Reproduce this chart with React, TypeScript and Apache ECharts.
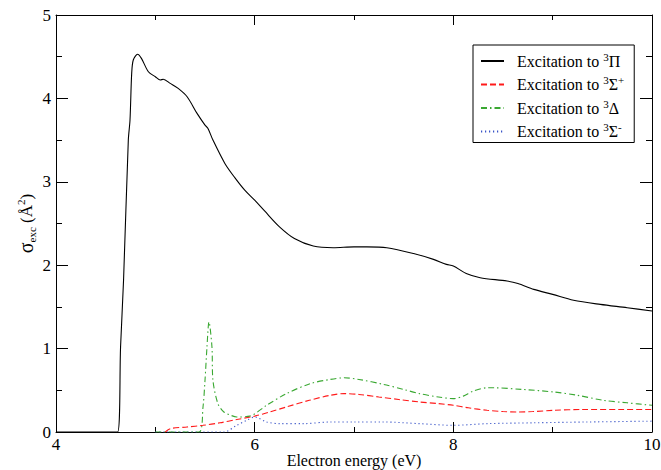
import React, { useEffect, useRef } from "react";
import * as echarts from "echarts";

const piX = [4.0, 4.62, 4.65, 4.68, 4.728, 4.745, 4.762, 4.778, 4.822, 4.86, 4.93, 5.0, 5.05, 5.08, 5.15, 5.23, 5.32, 5.42, 5.5, 5.53, 5.58, 5.7, 5.8, 5.9, 6.0, 6.1, 6.25, 6.4, 6.59, 6.79, 7.0, 7.13, 7.33, 7.6, 7.8, 7.93, 8.0, 8.13, 8.27, 8.54, 8.65, 8.81, 9.0, 9.21, 9.48, 9.75, 10.0];
const piY = [0, 0, 1.02, 1.82, 3.5, 3.74, 4.3, 4.46, 4.53, 4.48, 4.32, 4.26, 4.22, 4.23, 4.18, 4.12, 4.02, 3.82, 3.68, 3.64, 3.5, 3.22, 3.05, 2.9, 2.78, 2.65, 2.46, 2.32, 2.23, 2.21, 2.22, 2.22, 2.21, 2.14, 2.07, 2.01, 1.99, 1.9, 1.85, 1.81, 1.78, 1.71, 1.65, 1.58, 1.53, 1.49, 1.45];

const spX = [5.1, 5.15, 5.32, 5.48, 5.65, 5.82, 6.0, 6.15, 6.32, 6.55, 6.76, 6.9, 7.05, 7.25, 7.45, 7.66, 7.85, 8.0, 8.15, 8.34, 8.5, 8.64, 8.8, 9.01, 9.3, 9.68, 10.0];
const spY = [0, 0.04, 0.06, 0.08, 0.11, 0.15, 0.19, 0.24, 0.3, 0.38, 0.44, 0.46, 0.45, 0.42, 0.39, 0.36, 0.34, 0.32, 0.29, 0.26, 0.245, 0.24, 0.245, 0.26, 0.27, 0.27, 0.27];

const dX = [5.0, 5.44, 5.48, 5.5, 5.52, 5.54, 5.57, 5.58, 5.63, 5.69, 5.76, 5.82, 5.95, 6.12, 6.32, 6.56, 6.76, 6.9, 7.05, 7.3, 7.5, 7.66, 7.85, 8.0, 8.1, 8.2, 8.34, 8.4, 8.7, 9.01, 9.25, 9.51, 9.75, 10.0];
const dY = [0, 0, 0.3, 0.62, 1.02, 1.32, 1.02, 0.62, 0.34, 0.24, 0.2, 0.18, 0.19, 0.32, 0.46, 0.58, 0.63, 0.65, 0.63, 0.57, 0.51, 0.46, 0.42, 0.4, 0.43, 0.49, 0.53, 0.53, 0.51, 0.48, 0.44, 0.38, 0.35, 0.32];

const smX = [5.0, 5.69, 5.82, 5.92, 6.0, 6.12, 6.25, 6.49, 6.76, 7.0, 7.3, 7.66, 8.0, 8.34, 8.8, 9.34, 10.0];
const smY = [0, 0, 0.08, 0.14, 0.18, 0.12, 0.1, 0.1, 0.12, 0.12, 0.12, 0.1, 0.08, 0.1, 0.11, 0.12, 0.13];

const seriesNames = ["pi", "sigmaPlus", "delta", "sigmaMinus"];
const legendLabels: Record<string, string> = {
  pi: "{t|Excitation to }{sup|3}{g|Π}",
  sigmaPlus: "{t|Excitation to }{sup|3}{g|Σ}{sup|+}",
  delta: "{t|Excitation to }{sup|3}{g|Δ}",
  sigmaMinus: "{t|Excitation to }{sup|3}{g|Σ}{sup|-}",
};

const xMin = 4, xMax = 10, xStep = 2;
const yMin = 0, yMax = 5, yStep = 1;

const FONT = "'Liberation Serif', 'Times New Roman', 'DejaVu Serif', serif";

function pairs(xs: number[], ys: number[]) {
  return xs.map((x, i) => [x, ys[i]]);
}

export default function App() {
  const ref = useRef<HTMLDivElement>(null);
  useEffect(() => {
    if (!ref.current) return;
    const chart = echarts.init(ref.current, undefined, { renderer: "svg" });
    const axisCommon = {
      type: "value" as const,
      axisLine: { show: true, onZero: false, lineStyle: { color: "#000", width: 1 } },
      splitLine: { show: false },
      minorSplitLine: { show: false },
      nameMoveOverlap: false,
    };
    const lineBase = { type: "line", showSymbol: false, symbol: "none", smooth: 0.3 };
    chart.setOption({
      animation: false,
      backgroundColor: "#fff",
      textStyle: { fontFamily: FONT },
      grid: { left: 56, right: 9, top: 15, bottom: 38, containLabel: false, outerBoundsMode: "none" },
      legend: {
        orient: "vertical",
        left: 473,
        top: 45,
        padding: [6, 10, 3, 7],
        itemWidth: 23,
        itemHeight: 14,
        itemGap: 5.5,
        borderColor: "#000",
        borderWidth: 1,
        borderRadius: 0,
        backgroundColor: "#fff",
        data: seriesNames,
        itemStyle: { opacity: 0 },
        formatter: (name: string) => legendLabels[name],
        textStyle: {
          fontFamily: FONT,
          fontSize: 16,
          color: "#000",
          rich: {
            t: { fontFamily: FONT, fontSize: 16, color: "#000", lineHeight: 20, padding: [0, 0, 0, 8], verticalAlign: "middle" },
            g: { fontFamily: FONT, fontSize: 16, color: "#000", lineHeight: 20, verticalAlign: "middle" },
            sup: { fontFamily: FONT, fontSize: 11, color: "#000", lineHeight: 11, verticalAlign: "top" },
          },
        },
      },
      xAxis: [
        {
          ...axisCommon,
          position: "bottom",
          min: xMin,
          max: xMax,
          interval: xStep,
          axisTick: { show: true, inside: true, length: 10, lineStyle: { color: "#000" } },
          minorTick: { show: true, splitNumber: 2, length: 5, lineStyle: { color: "#000" } },
          axisLabel: { show: true, color: "#000", fontFamily: FONT, fontSize: 17, margin: 4 },
          name: "Electron energy (eV)",
          nameLocation: "middle",
          nameGap: 20,
          nameTextStyle: { color: "#000", fontFamily: FONT, fontSize: 16, lineHeight: 16 },
        },
        {
          ...axisCommon,
          position: "top",
          min: xMin,
          max: xMax,
          interval: xStep,
          axisTick: { show: true, inside: true, length: 10, lineStyle: { color: "#000" } },
          minorTick: { show: true, splitNumber: 2, length: 5, lineStyle: { color: "#000" } },
          axisLabel: { show: false },
        },
      ],
      yAxis: [
        {
          ...axisCommon,
          position: "left",
          min: yMin,
          max: yMax,
          interval: yStep,
          axisTick: { show: true, inside: true, length: 12, lineStyle: { color: "#000" } },
          minorTick: { show: true, splitNumber: 2, length: 6, lineStyle: { color: "#000" } },
          axisLabel: { show: true, color: "#000", fontFamily: FONT, fontSize: 17, margin: 5 },
          name: "{s|σ}{sub|exc}{n| (Å}{sup|2}{n|)}",
          nameLocation: "middle",
          nameGap: 19,
          nameTextStyle: {
            color: "#000",
            fontFamily: FONT,
            fontSize: 17,
            rich: {
              s: { fontFamily: FONT, fontSize: 20, color: "#000", lineHeight: 22, verticalAlign: "middle" },
              n: { fontFamily: FONT, fontSize: 17, color: "#000", lineHeight: 22, verticalAlign: "middle" },
              sub: { fontFamily: FONT, fontSize: 11, color: "#000", lineHeight: 11, verticalAlign: "bottom" },
              sup: { fontFamily: FONT, fontSize: 11, color: "#000", lineHeight: 11, verticalAlign: "top" },
            },
          },
        },
        {
          ...axisCommon,
          position: "right",
          min: yMin,
          max: yMax,
          interval: yStep,
          axisTick: { show: true, inside: true, length: 12, lineStyle: { color: "#000" } },
          minorTick: { show: true, splitNumber: 2, length: 6, lineStyle: { color: "#000" } },
          axisLabel: { show: false },
        },
      ],
      series: [
        {
          ...lineBase,
          name: "pi",
          data: pairs(piX, piY),
          lineStyle: { color: "#000", width: 1.1, type: "solid" },
          itemStyle: { color: "#000" },
          z: 5,
        },
        {
          ...lineBase,
          name: "sigmaPlus",
          data: pairs(spX, spY),
          lineStyle: { color: "#ff1a1a", width: 1.1, type: [6, 3] },
          itemStyle: { color: "#ff1a1a" },
          z: 4,
        },
        {
          ...lineBase,
          name: "delta",
          data: pairs(dX, dY),
          lineStyle: { color: "#3aa832", width: 1.1, type: [6, 3, 1.5, 3] },
          itemStyle: { color: "#3aa832" },
          z: 3,
        },
        {
          ...lineBase,
          name: "sigmaMinus",
          data: pairs(smX, smY),
          lineStyle: { color: "#3a55c8", width: 1.1, type: [1.2, 2.8] },
          itemStyle: { color: "#3a55c8" },
          z: 2,
        },
      ],
    });
    return () => chart.dispose();
  }, []);
  return <div ref={ref} style={{ width: 661, height: 470, position: "absolute", left: 0, top: 0 }} />;
}
